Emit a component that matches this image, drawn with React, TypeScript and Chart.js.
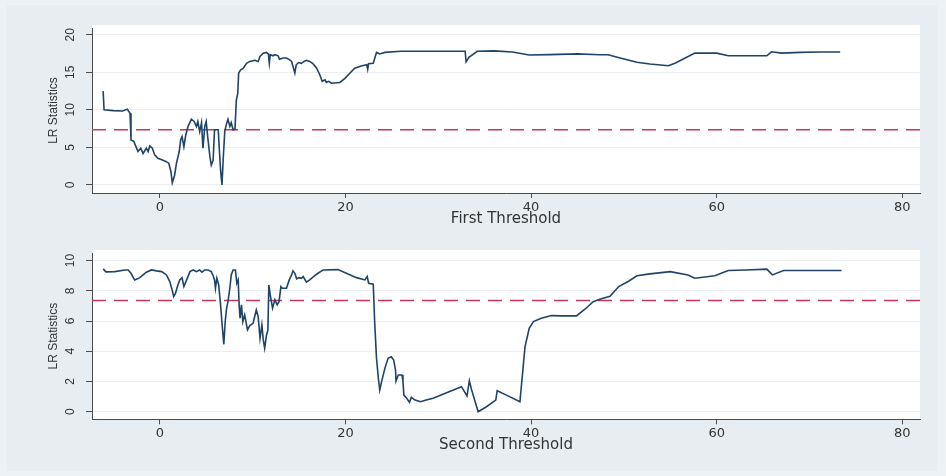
import { useEffect, useRef } from "react";
import { Chart, registerables } from "chart.js";

Chart.register(...registerables);

// ---------- data ----------
const topX = [-6.1, -6.0, -5.0, -4.0, -3.5, -3.2, -3.1, -2.8, -2.5, -2.35, -2.05, -1.8, -1.45, -1.25, -1.08, -0.8, -0.55, -0.2, 0.35, 0.7, 0.97, 1.2, 1.35, 1.6, 1.8, 2.1, 2.25, 2.4, 2.6, 2.8, 3.05, 3.4, 3.7, 3.95, 4.1, 4.3, 4.5, 4.65, 4.85, 5.0, 5.2, 5.4, 5.55, 5.75, 5.9, 6.3, 6.4, 6.55, 6.7, 6.85, 7.0, 7.2, 7.35, 7.55, 7.7, 7.9, 8.1, 8.25, 8.4, 8.5, 8.7, 9.0, 9.35, 9.7, 10.25, 10.6, 10.8, 11.15, 11.5, 11.7, 11.8, 11.9, 12.2, 12.4, 12.75, 12.9, 13.3, 13.65, 14.0, 14.2, 14.35, 14.55, 14.7, 14.95, 15.25, 15.55, 15.8, 16.15, 16.5, 16.9, 17.25, 17.5, 17.8, 17.95, 18.2, 18.5, 19.4, 19.95, 20.5, 21.0, 21.7, 22.3, 22.4, 22.5, 23.0, 23.35, 23.7, 24.25, 26, 30, 32.9, 33.0, 33.3, 34.2, 36, 38, 39.8, 42, 45, 47.4, 48.3, 49.6, 51.4, 52.8, 54.8, 55.5, 57.65, 60.0, 61.25, 65.4, 65.9, 67.0, 69.0, 71.1, 73.3];
const topY = [12.5, 10.0, 9.9, 9.85, 10.1, 9.55, 6.0, 5.8, 4.9, 4.45, 4.9, 4.2, 4.9, 4.45, 5.2, 4.9, 4.0, 3.55, 3.3, 3.1, 2.9, 1.8, 0.3, 1.3, 2.9, 4.45, 6.0, 6.45, 5.1, 6.65, 7.8, 8.75, 8.45, 7.8, 8.45, 7.1, 8.3, 4.9, 7.8, 8.45, 6.0, 3.8, 2.65, 3.3, 7.35, 7.35, 5.1, 2.0, 0.0, 3.8, 7.1, 8.2, 8.75, 7.8, 8.3, 7.35, 7.4, 11.3, 12.2, 14.9, 15.3, 15.55, 16.2, 16.45, 16.6, 16.45, 17.1, 17.55, 17.65, 17.45, 16.2, 17.35, 17.2, 17.35, 17.2, 16.75, 16.9, 16.9, 16.65, 16.45, 15.8, 14.9, 16.0, 16.3, 16.2, 16.45, 16.6, 16.45, 16.15, 15.55, 14.65, 13.8, 14.0, 13.65, 13.8, 13.55, 13.65, 14.2, 14.9, 15.55, 15.85, 16.0, 15.4, 16.15, 16.2, 17.65, 17.45, 17.65, 17.8, 17.8, 17.8, 16.4, 17.0, 17.8, 17.85, 17.7, 17.3, 17.35, 17.45, 17.33, 17.33, 16.9, 16.35, 16.1, 15.87, 16.2, 17.55, 17.55, 17.2, 17.2, 17.73, 17.55, 17.65, 17.7, 17.7];

const botX = [-6.1, -5.8, -4.85, -3.75, -3.4, -3.1, -2.85, -2.7, -2.4, -2.15, -1.8, -1.45, -0.9, -0.35, 0.2, 0.72, 1.08, 1.33, 1.5, 1.7, 1.9, 2.15, 2.4, 2.6, 2.9, 3.25, 3.6, 3.95, 4.3, 4.55, 4.85, 5.2, 5.55, 5.75, 5.9, 6.0, 6.15, 6.35, 6.55, 6.75, 6.9, 7.05, 7.2, 7.35, 7.55, 7.7, 7.9, 8.15, 8.3, 8.45, 8.55, 8.65, 8.8, 8.95, 9.15, 9.45, 9.7, 10.05, 10.4, 10.6, 10.8, 11.0, 11.15, 11.3, 11.5, 11.65, 11.75, 11.9, 12.15, 12.4, 12.65, 12.85, 13.05, 13.2, 13.65, 13.95, 14.2, 14.35, 14.55, 14.75, 15.0, 15.25, 15.45, 15.8, 16.15, 16.7, 17.05, 17.6, 19.2, 20.1, 21.2, 22.1, 22.35, 22.5, 23.0, 23.15, 23.35, 23.55, 23.7, 23.9, 24.25, 24.6, 24.95, 25.2, 25.4, 25.45, 25.7, 26.1, 26.2, 26.3, 26.6, 26.9, 27.1, 27.5, 28.1, 28.7, 29.45, 30.9, 32.5, 33.1, 33.35, 33.6, 34.3, 35.2, 36.2, 36.35, 37.35, 38.8, 39.35, 39.8, 40.25, 41.1, 42.2, 43.3, 44.9, 45.8, 46.7, 47.4, 48.5, 49.45, 50.55, 51.4, 52.8, 55.0, 56.9, 57.65, 59.8, 61.25, 63.2, 65.4, 66.0, 67.2, 69.0, 71.1, 73.45];
const botY = [9.45, 9.25, 9.27, 9.38, 9.38, 9.16, 8.87, 8.72, 8.79, 8.87, 9.05, 9.23, 9.38, 9.32, 9.27, 9.05, 8.61, 8.06, 7.62, 7.84, 8.28, 8.72, 8.87, 8.28, 8.72, 9.27, 9.38, 9.27, 9.38, 9.23, 9.38, 9.38, 9.27, 9.0, 8.72, 8.17, 8.83, 8.39, 7.07, 5.52, 4.46, 5.96, 6.85, 7.28, 8.17, 9.05, 9.38, 9.38, 8.5, 8.72, 7.07, 6.19, 7.07, 5.96, 6.4, 5.41, 5.7, 5.85, 6.73, 6.29, 4.86, 5.74, 4.75, 4.2, 5.08, 5.41, 8.39, 7.73, 6.85, 7.4, 7.07, 7.28, 8.28, 8.17, 8.17, 8.72, 9.05, 9.32, 9.16, 8.79, 8.87, 8.83, 8.94, 8.57, 8.72, 9.0, 9.16, 9.38, 9.4, 9.16, 8.87, 8.72, 8.94, 8.5, 8.44, 5.96, 3.54, 2.21, 1.44, 1.99, 2.87, 3.54, 3.64, 3.42, 2.76, 2.03, 2.43, 2.43, 1.99, 1.1, 0.89, 0.63, 0.95, 0.77, 0.66, 0.77, 0.89, 1.26, 1.66, 1.04, 2.05, 1.44, 0.0, 0.33, 0.77, 1.39, 1.1, 0.66, 4.3, 5.52, 5.96, 6.19, 6.36, 6.34, 6.34, 6.78, 7.28, 7.44, 7.64, 8.28, 8.65, 8.99, 9.12, 9.27, 9.05, 8.83, 9.0, 9.34, 9.38, 9.43, 9.05, 9.34, 9.34, 9.34, 9.34];

const xTicks = [0, 20, 40, 60, 80];
const topYTicks = [0, 5, 10, 15, 20];
const botYTicks = [0, 2, 4, 6, 8, 10];
const criticalValue = 7.35;
const xTitleTop = "First Threshold";
const xTitleBottom = "Second Threshold";
const yTitle = "LR Statistics";

// axis ranges
const xMin = -7.3;
const xMax = 81.9;

const LINE = "#1f4468";
const CRIT = "#c9365c";
const TEXT = "#333333";
const AXIS = "#4a4a4a";
const NARROW = "'Liberation Sans Narrow', 'Liberation Sans', Arial, sans-serif";

const whitePlot = {
  id: "whitePlot",
  beforeDraw(chart: any) {
    const { ctx, chartArea } = chart;
    ctx.save();
    ctx.fillStyle = "#ffffff";
    ctx.fillRect(chartArea.left, chartArea.top - 3, chartArea.right - chartArea.left, chartArea.bottom - chartArea.top + 3);
    ctx.restore();
  },
};

// rotated y tick labels (reading bottom-to-top), positioned by the y scale
const rotatedYLabels = {
  id: "rotatedYLabels",
  afterDraw(chart: any) {
    const { ctx } = chart;
    const scale = chart.scales.y;
    ctx.save();
    ctx.fillStyle = TEXT;
    ctx.font = `12px ${NARROW}`;
    ctx.textAlign = "center";
    ctx.textBaseline = "middle";
    scale.ticks.forEach((t: any) => {
      const y = scale.getPixelForValue(t.value);
      ctx.save();
      ctx.translate(scale.right - 21, y);
      ctx.rotate(-Math.PI / 2);
      ctx.fillText(String(t.value), 0, 0);
      ctx.restore();
    });
    ctx.restore();
  },
};

type PanelProps = {
  xs: number[];
  ys: number[];
  yTicks: number[];
  yMin: number;
  yMax: number;
  xTitle: string;
  padTop: number;
  xAxisH: number;
  titlePadBottom: number;
  top: number;
};

function Panel(p: PanelProps) {
  const ref = useRef<HTMLCanvasElement | null>(null);
  useEffect(() => {
    if (!ref.current) return;
    const data = p.xs.map((x, i) => ({ x, y: p.ys[i] }));
    const chart = new Chart(ref.current, {
      type: "line",
      data: {
        datasets: [
          {
            data,
            borderColor: LINE,
            borderWidth: 1.6,
            pointRadius: 0,
            tension: 0,
            fill: false,
          },
          {
            data: [
              { x: xMin, y: criticalValue },
              { x: xMax, y: criticalValue },
            ],
            borderColor: CRIT,
            borderWidth: 1.5,
            borderDash: [14, 8],
            pointRadius: 0,
            fill: false,
          },
        ],
      },
      options: {
        animation: false,
        responsive: false,
        devicePixelRatio: 1,
        layout: { padding: { left: 0, right: 26, top: p.padTop, bottom: 0 } },
        plugins: { legend: { display: false }, tooltip: { enabled: false } },
        scales: {
          x: {
            type: "linear",
            min: xMin,
            max: xMax,
            afterBuildTicks: (s: any) => {
              s.ticks = xTicks.map((v) => ({ value: v }));
            },
            afterFit: (s: any) => {
              s.height = p.xAxisH;
            },
            ticks: {
              autoSkip: false,
              maxRotation: 0,
              padding: 2,
              color: TEXT,
              font: { family: "'DejaVu Sans', sans-serif", size: 13 },
            },
            grid: {
              drawOnChartArea: false,
              drawTicks: true,
              tickLength: 5,
              tickColor: AXIS,
              tickWidth: 1,
            },
            border: { display: true, color: AXIS, width: 1 },
            title: {
              display: true,
              text: p.xTitle,
              color: TEXT,
              font: { family: "'DejaVu Sans', sans-serif", size: 15 },
              padding: { top: 0, bottom: p.titlePadBottom },
            },
          },
          y: {
            type: "linear",
            min: p.yMin,
            max: p.yMax,
            afterBuildTicks: (s: any) => {
              s.ticks = p.yTicks.map((v) => ({ value: v }));
            },
            afterFit: (s: any) => {
              s.width = 92;
            },
            ticks: {
              display: false,
            },
            grid: {
              color: "#eceff1",
              lineWidth: 1,
              drawTicks: true,
              tickLength: 6,
              tickColor: AXIS,
              tickWidth: 1,
            },
            border: { display: true, color: AXIS, width: 1 },
            title: {
              display: true,
              text: yTitle,
              color: TEXT,
              font: { family: NARROW, size: 12 },
              padding: { top: 46, bottom: 0 },
            },
          },
        },
      } as any,
      plugins: [whitePlot, rotatedYLabels],
    });
    return () => chart.destroy();
  }, []);
  return (
    <canvas
      ref={ref}
      width={946}
      height={238}
      style={{ position: "absolute", left: 0, top: p.top, width: 946, height: 238 }}
    />
  );
}

export default function App() {
  return (
    <div
      style={{
        position: "fixed",
        left: 0,
        top: 0,
        width: 946,
        height: 476,
        background: "#eef2f4",
        overflow: "hidden",
      }}
    >
      <div
        style={{
          position: "absolute",
          left: 7,
          top: 5,
          width: 930,
          height: 466,
          background: "#e7edf0",
        }}
      />
      <Panel
        xs={topX}
        ys={topY}
        yTicks={topYTicks}
        yMin={-1.07}
        yMax={20.9}
        xTitle={xTitleTop}
        padTop={28}
        xAxisH={45}
        titlePadBottom={10}
        top={0}
      />
      <Panel
        xs={botX}
        ys={botY}
        yTicks={botYTicks}
        yMin={-0.5}
        yMax={10.5}
        xTitle={xTitleBottom}
        padTop={15}
        xAxisH={56.7}
        titlePadBottom={22}
        top={238}
      />
    </div>
  );
}
